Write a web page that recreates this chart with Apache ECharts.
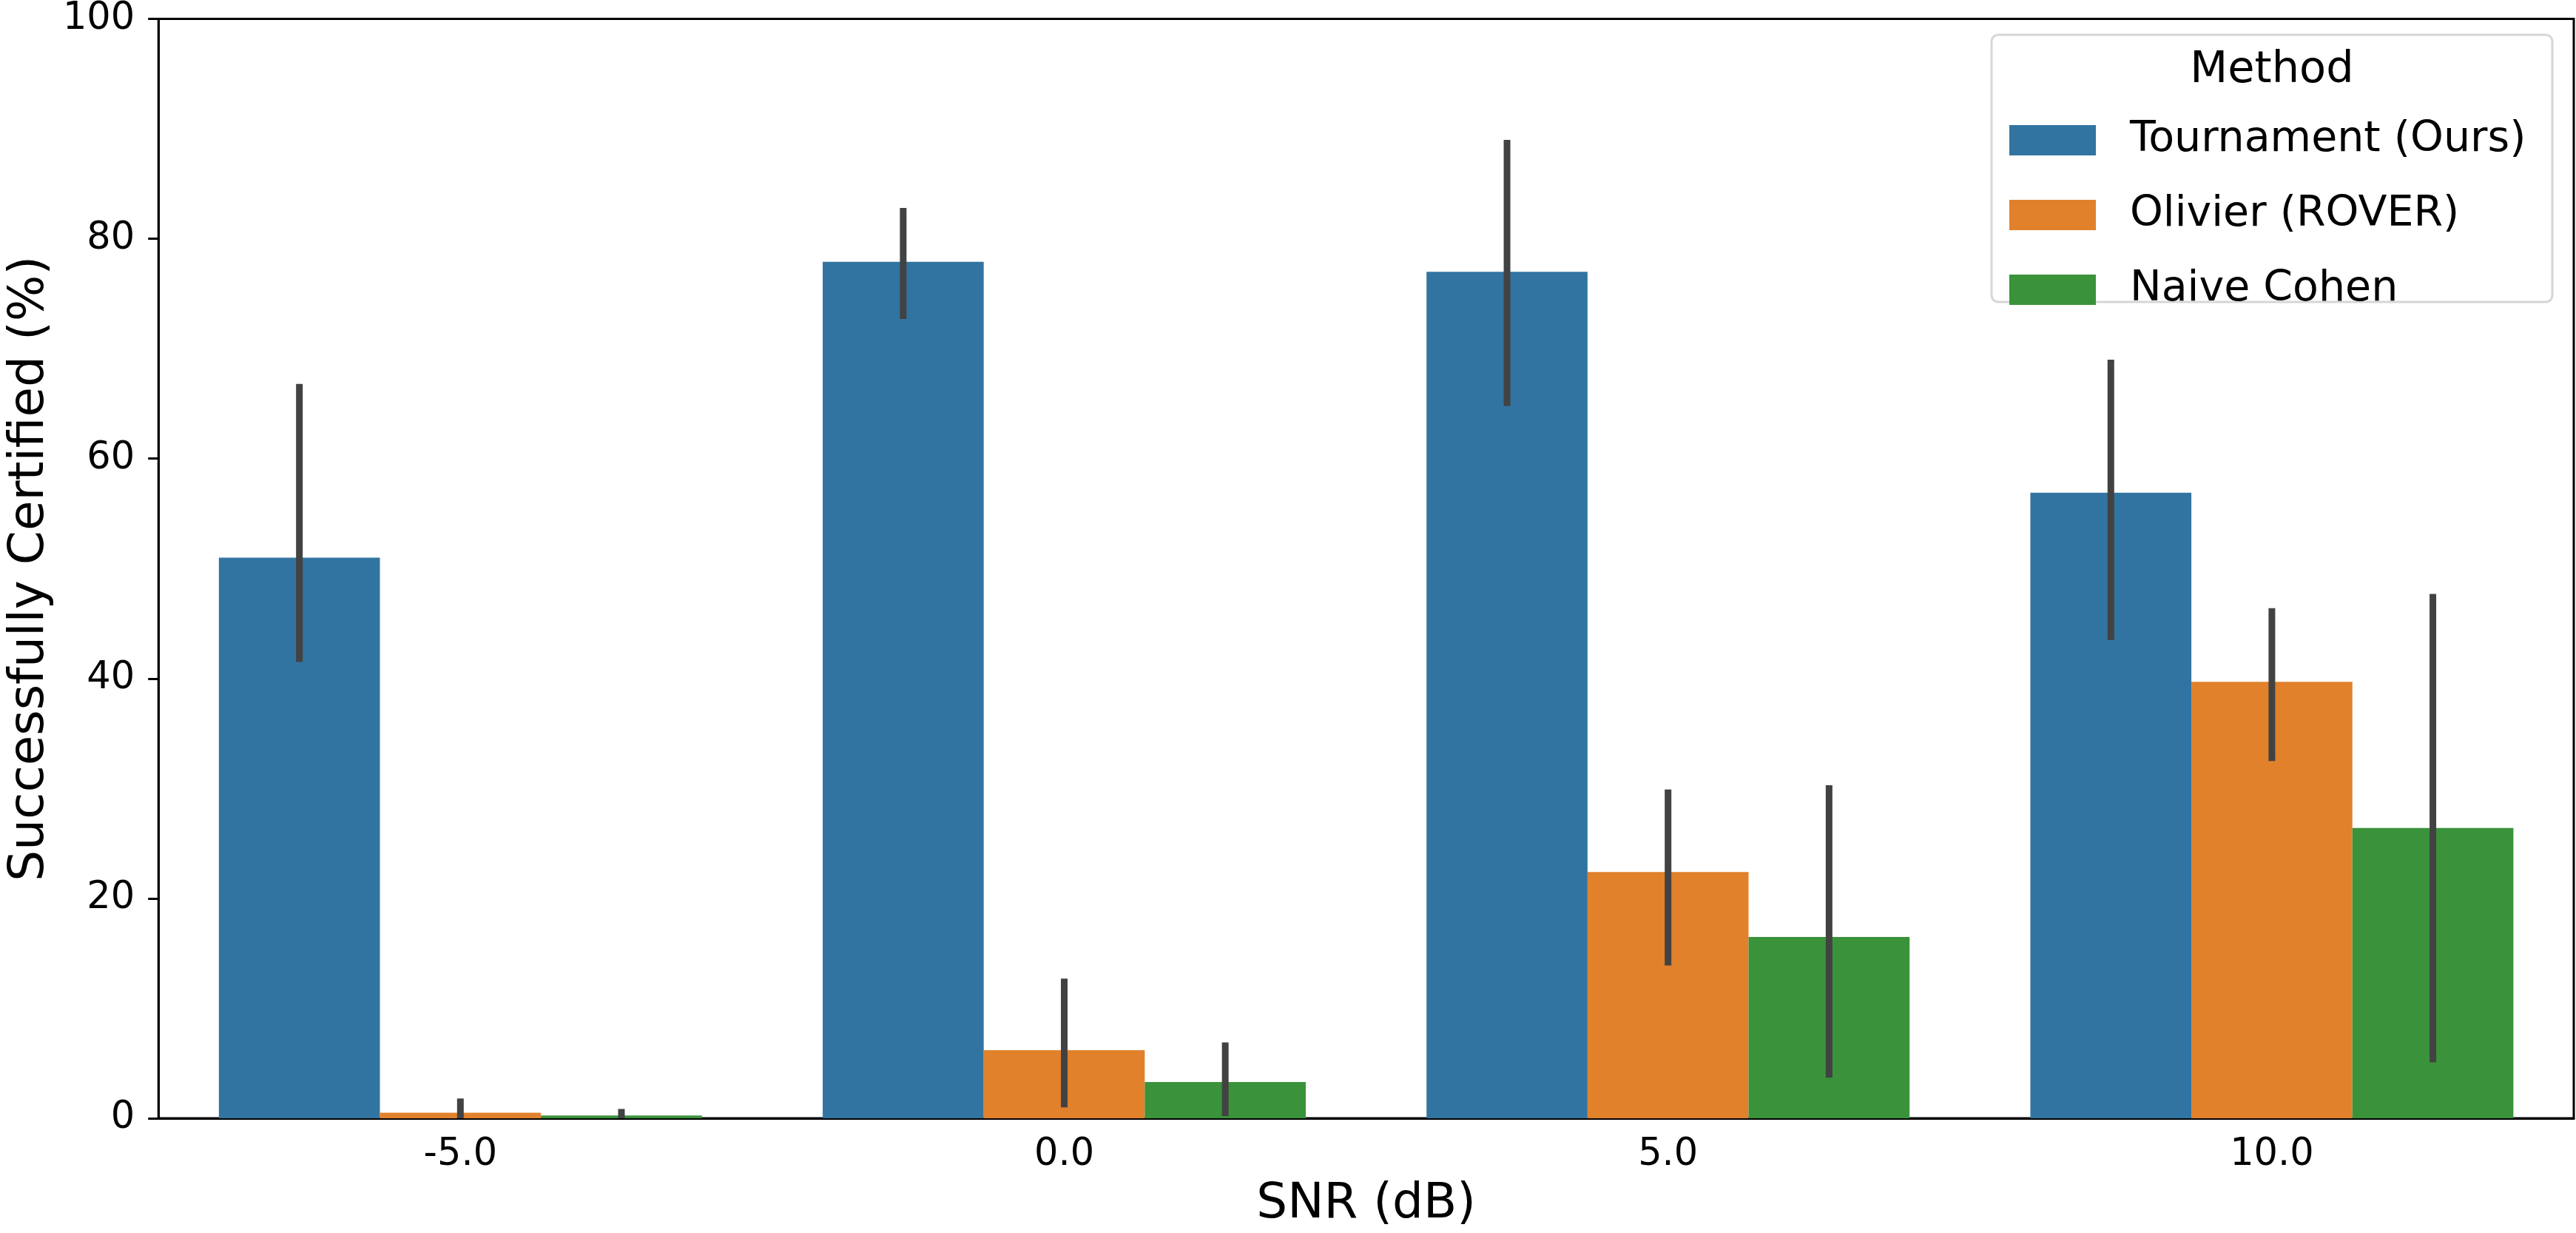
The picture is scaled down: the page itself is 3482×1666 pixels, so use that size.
<!DOCTYPE html>
<html>
<head>
<meta charset="utf-8">
<script src="https://cdn.jsdelivr.net/npm/echarts@6/dist/echarts.min.js"></script>
<style>
  html, body { margin: 0; padding: 0; background: #fff; }
  #chart { width: 3482px; height: 1666px; }
</style>
</head>
<body>
<div id="chart"></div>
<script>
  // categories (SNR in dB)
  var snrLabels = ['-5.0', '0.0', '5.0', '10.0'];
  var methods = ['Tournament (Ours)', 'Olivier (ROVER)', 'Naive Cohen'];

  // mean certified %
  var tournament = [51.0, 77.9, 77.0, 56.9];
  var olivier = [0.5, 6.2, 22.4, 39.7];
  var naiveCohen = [0.25, 3.3, 16.5, 26.4];

  // confidence interval ends
  var tournamentLow = [41.5, 72.7, 64.8, 43.5];
  var tournamentHigh = [66.8, 82.8, 89.0, 69.0];
  var olivierLow = [0.0, 1.0, 13.9, 32.5];
  var olivierHigh = [1.8, 12.7, 29.9, 46.4];
  var naiveLow = [0.0, 0.2, 3.7, 5.1];
  var naiveHigh = [0.85, 6.9, 30.3, 47.7];

  var colors = ['#3274a1', '#e1812c', '#3a923a'];
  var font = 'DejaVu Sans';

  var means = [tournament, olivier, naiveCohen];
  var lows = [tournamentLow, olivierLow, naiveLow];
  var highs = [tournamentHigh, olivierHigh, naiveHigh];

  // error bar rows: [category index, low, high, method index]
  var errRows = [];
  for (var k = 0; k < 3; k++) {
    for (var i = 0; i < snrLabels.length; i++) {
      errRows.push([i, lows[k][i], highs[k][i], k]);
    }
  }

  function renderErr(params, api) {
    var cat = api.value(0);
    var k = api.value(3);
    var cw = api.size([1, 0])[0];
    var bw = cw * 0.8 / 3;
    var x = api.coord([cat, 0])[0] + (k - 1) * bw;
    var lo = api.coord([cat, api.value(1)])[1];
    var hi = api.coord([cat, api.value(2)])[1];
    return {
      type: 'line',
      shape: {x1: x, y1: lo, x2: x, y2: hi},
      style: {stroke: '#424242', lineWidth: 9}
    };
  }

  var series = [];
  for (var m = 0; m < 3; m++) {
    series.push({
      name: methods[m],
      type: 'bar',
      data: means[m],
      barGap: '0%',
      barCategoryGap: '20%',
      itemStyle: {color: colors[m]},
      z: 2
    });
  }
  series.push({
    type: 'custom',
    name: 'ci',
    renderItem: renderErr,
    data: errRows,
    encode: {x: 0, y: [1, 2]},
    z: 5,
    silent: true
  });

  var myChart = echarts.init(document.getElementById('chart'));
  myChart.setOption({
    animation: false,
    textStyle: {fontFamily: font},
    grid: {
      left: 207, right: 3, top: 19, bottom: 155,
      show: true, borderColor: '#000', borderWidth: 3,
      containLabel: false
    },
    xAxis: {
      type: 'category',
      data: snrLabels,
      boundaryGap: true,
      name: 'SNR (dB)',
      nameLocation: 'middle',
      nameGap: 84,
      nameTextStyle: {fontSize: 66, color: '#000', fontFamily: font},
      axisLine: {lineStyle: {color: '#000', width: 3}},
      axisTick: {alignWithLabel: true, length: 14, lineStyle: {color: '#000', width: 3}},
      axisLabel: {fontSize: 51, color: '#000', margin: 24, fontFamily: font},
      splitLine: {show: false}
    },
    yAxis: {
      type: 'value',
      min: 0, max: 100, interval: 20,
      name: 'Successfully Certified (%)',
      nameLocation: 'middle',
      nameRotate: 90,
      nameGap: 110,
      nameTextStyle: {fontSize: 66, color: '#000', fontFamily: font},
      axisLine: {show: true, lineStyle: {color: '#000', width: 3}},
      axisTick: {show: true, length: 14, lineStyle: {color: '#000', width: 3}},
      axisLabel: {fontSize: 51, color: '#000', margin: 32, fontFamily: font},
      splitLine: {show: false}
    },
    legend: {
      data: methods,
      orient: 'vertical',
      left: 2716,
      top: 161,
      itemWidth: 117,
      itemHeight: 41,
      itemGap: 44,
      icon: 'rect',
      padding: 0,
      textStyle: {fontSize: 57, color: '#000', fontFamily: font, padding: [0, 0, 0, 41]},
      z: 6
    },
    graphic: [
      {
        type: 'rect',
        z: 4,
        shape: {x: 2692, y: 47, width: 758, height: 361, r: 9},
        style: {fill: 'rgba(255,255,255,0.8)', stroke: '#d6d6d6', lineWidth: 3}
      },
      {
        type: 'text',
        z: 6,
        x: 3071, y: 96,
        style: {
          text: 'Method', fontSize: 59, fontFamily: font, fill: '#000',
          align: 'center', verticalAlign: 'middle'
        }
      }
    ],
    series: series
  });
</script>
</body>
</html>
